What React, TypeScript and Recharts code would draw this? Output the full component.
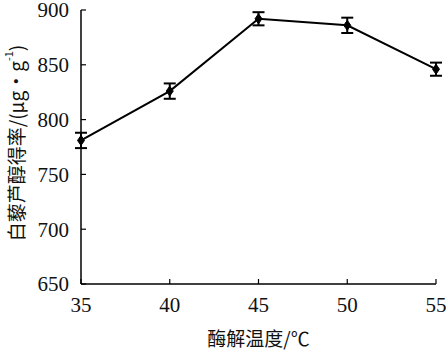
import React from "react";
import { LineChart, Line, XAxis, YAxis, ErrorBar } from "recharts";

const temperatures = [35, 40, 45, 50, 55];
const yieldValues = [781, 826, 892, 886, 846];
const yieldErrors = [7, 7, 6, 7, 6];
const xTicks = [35, 40, 45, 50, 55];
const yTicks = [650, 700, 750, 800, 850, 900];

const data = temperatures.map((t, i) => ({ t, v: yieldValues[i], e: yieldErrors[i] }));

const serif = "'Liberation Serif', 'DejaVu Serif', serif";
const cjk = "'Noto Sans CJK SC', sans-serif";

const Diamond = (props: any) => {
  const { cx, cy } = props;
  if (cx == null || cy == null) return null;
  return (
    <path
      d={`M${cx},${cy - 5} L${cx + 3.5},${cy} L${cx},${cy + 5} L${cx - 3.5},${cy} Z`}
      fill="#000"
      stroke="#000"
      strokeWidth={1}
    />
  );
};

const XTick = (p: any) => (
  <text x={p.x} y={p.y} dy="0.71em" textAnchor="middle" style={{ fontFamily: serif, fontSize: 21 }} fill="#111">
    {p.payload.value}
  </text>
);

const YTick = (p: any) => (
  <text x={p.x} y={p.y} dy="0.35em" textAnchor="end" style={{ fontFamily: serif, fontSize: 21 }} fill="#111">
    {p.payload.value}
  </text>
);

const YLabel = (props: any) => {
  const vb = props.viewBox || {};
  const x = vb.x + 15;
  const y = vb.y + vb.height / 2 - 4;
  return (
    <text
      x={x}
      y={y}
      transform={`rotate(-90 ${x} ${y})`}
      textAnchor="middle"
      dominantBaseline="central"
      style={{ fontFamily: cjk, fontSize: 19 }}
      fill="#111"
    >
      白藜芦醇得率/(μg•g
      <tspan style={{ fontSize: 11 }} dy={-7}>-1</tspan>
      <tspan dy={7}>)</tspan>
    </text>
  );
};

const XLabel = (props: any) => {
  const vb = props.viewBox || {};
  const x = vb.x + vb.width / 2;
  const y = vb.y + vb.height - 6;
  return (
    <text x={x} y={y} textAnchor="middle" style={{ fontFamily: cjk, fontSize: 19 }} fill="#111">
      酶解温度/℃
    </text>
  );
};

export default function App() {
  return (
    <div style={{ position: "absolute", left: 0, top: 0, background: "#fff" }}>
      <LineChart
        width={446}
        height={352}
        data={data}
        margin={{ top: 10, right: 10, left: 0, bottom: 0 }}
      >
        <XAxis
          dataKey="t"
          type="number"
          domain={[35, 55]}
          ticks={xTicks}
          height={68}
          tickSize={-5}
          tickMargin={18}
          axisLine={{ stroke: "#000", strokeWidth: 1.5 }}
          tickLine={{ stroke: "#000", strokeWidth: 1.2 }}
          tick={<XTick />}
          label={<XLabel />}
        />
        <YAxis
          type="number"
          domain={[650, 900]}
          ticks={yTicks}
          width={81}
          tickSize={-5}
          tickMargin={17}
          axisLine={{ stroke: "#000", strokeWidth: 1.5 }}
          tickLine={{ stroke: "#000", strokeWidth: 1.2 }}
          tick={<YTick />}
          label={<YLabel />}
        />
        <Line
          dataKey="v"
          stroke="#000"
          strokeWidth={2}
          dot={<Diamond />}
          activeDot={false}
          isAnimationActive={false}
        >
          <ErrorBar dataKey="e" width={6} stroke="#000" strokeWidth={2} direction="y" />
        </Line>
      </LineChart>
    </div>
  );
}
